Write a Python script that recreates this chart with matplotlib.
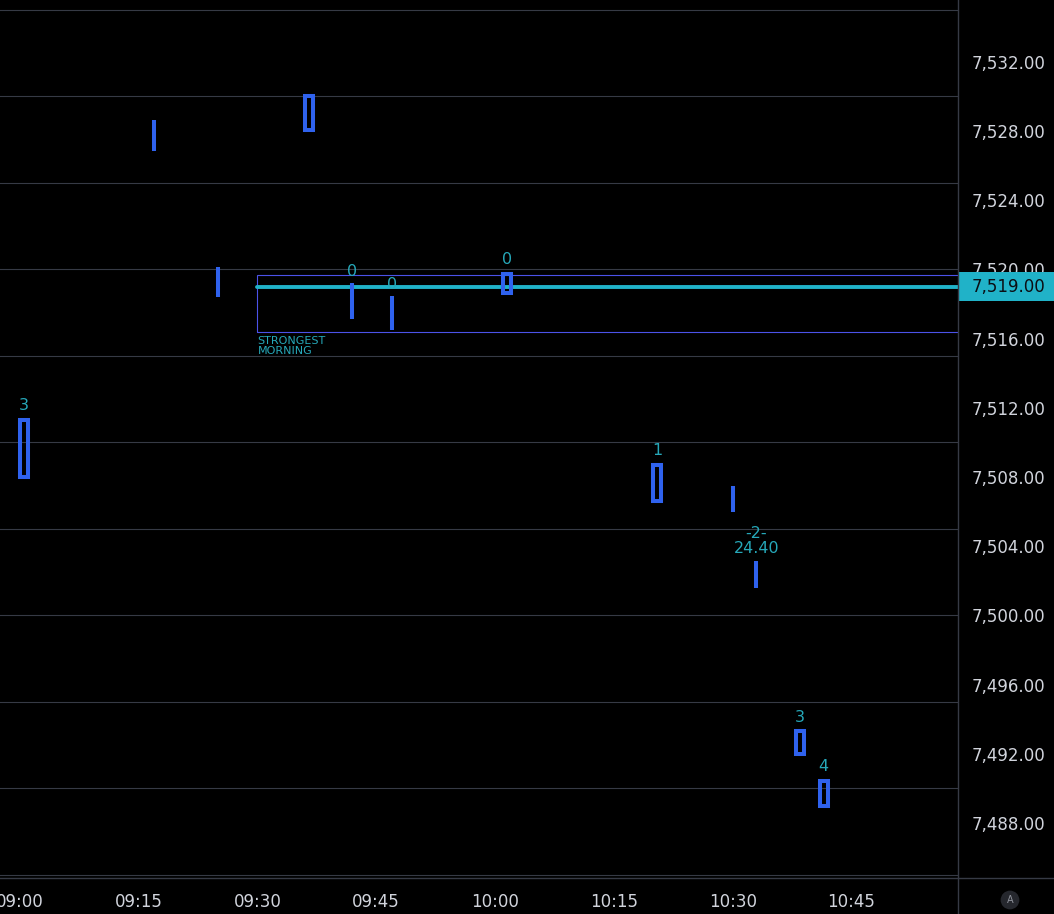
import pandas as pd
import matplotlib
matplotlib.use('Agg')
import matplotlib.pyplot as plt
from matplotlib.patches import Rectangle
from matplotlib.lines import Line2D
from matplotlib.ticker import FuncFormatter
from matplotlib.transforms import blended_transform_factory

# candles
candle_times = ['09:00:30', '09:17:00', '09:25:00', '09:36:30', '09:42:00', '09:47:00',
                '10:01:30', '10:20:30', '10:30:00', '10:33:00', '10:38:30', '10:41:30']
candle_low = [7508.0, 7526.85, 7518.4, 7528.05, 7517.1, 7516.5,
              7518.65, 7506.6, 7506.0, 7501.55, 7492.0, 7489.0]
candle_high = [7511.3, 7528.65, 7520.15, 7530.0, 7519.2, 7518.45,
               7519.75, 7508.7, 7507.5, 7503.15, 7493.3, 7490.45]
candle_hollow = [True, False, False, True, False, False,
                 True, True, False, False, True, True]
candle_labels = ['3', '', '', '', '0', '0', '0', '1', '', '-2-\n24.40', '3', '4']

zone_start = '09:30'
zone_top = 7519.65
zone_bottom = 7516.35
zone_text = 'STRONGEST\nMORNING'
level_price = 7519.0

price_ticks = [7488, 7492, 7496, 7500, 7504, 7508, 7512, 7516, 7520, 7524, 7528, 7532]
grid_prices = [7485, 7490, 7495, 7500, 7505, 7510, 7515, 7520, 7525, 7530, 7535]
time_ticks = ['09:00', '09:15', '09:30', '09:45', '10:00', '10:15', '10:30', '10:45']

BLUE = '#2f62ee'
CYAN = '#20b2c8'
LABEL = '#26a8b9'
GRID = '#363a45'
TXT = '#d1d4dc'


def minutes(t):
    if t.count(':') == 1:
        t = t + ':00'
    return pd.to_timedelta(t).total_seconds() / 60 - 540


xs = [minutes(t) for t in candle_times]

fig = plt.figure(figsize=(10.54, 9.14), dpi=100, facecolor='black')
ax = fig.add_axes([0, 36 / 914, 958 / 1054, 878 / 914])
ax.set_facecolor('black')
ax.set_xlim(-2.49, 118.44)
ax.set_ylim(7484.815, 7535.567)

for g in grid_prices:
    ax.axhline(g, color=GRID, lw=0.8, zorder=0)

# zone + level
z0 = minutes(zone_start)
ax.add_patch(Rectangle((z0, zone_bottom), 300, zone_top - zone_bottom,
                       fill=False, ec='#4b52e8', lw=0.8, zorder=1))
ax.plot([z0, 300], [level_price, level_price], color=CYAN, lw=2.8,
        solid_capstyle='round', zorder=2)
ax.annotate(zone_text, (z0, zone_bottom), xytext=(0, -2.5), textcoords='offset points',
            ha='left', va='top', fontsize=8, color=LABEL, linespacing=1.0)

# candles
for x, lo, hi, hollow, lab in zip(xs, candle_low, candle_high, candle_hollow, candle_labels):
    if hollow:
        ax.add_patch(Rectangle((x - 0.505, lo), 1.01, hi - lo, fill=False,
                               ec=BLUE, lw=2.9, joinstyle='miter', zorder=3))
        off = 4.6
    else:
        ax.vlines(x, lo, hi, color=BLUE, lw=2.9, zorder=3)
        off = 3.2
    if lab:
        ax.annotate(lab, (x, hi), xytext=(0, off), textcoords='offset points',
                    ha='center', va='bottom', fontsize=11.5, color=LABEL,
                    linespacing=1.05)

# axes
for s in ax.spines.values():
    s.set_visible(False)
ax.yaxis.tick_right()
ax.set_yticks(price_ticks)
ax.yaxis.set_major_formatter(FuncFormatter(lambda v, p: f'{v:,.2f}'))
ax.set_xticks([minutes(t) for t in time_ticks])
ax.set_xticklabels(time_ticks)
ax.tick_params(axis='y', length=0, pad=10, labelsize=12, colors=TXT)
ax.tick_params(axis='x', length=0, pad=10.5, labelsize=12, colors=TXT)

tr = blended_transform_factory(ax.transAxes, ax.transData)
ax.text(1 + 14 / 958, 7536, '7,536.00', transform=tr, ha='left', va='center',
        fontsize=12, color=TXT, clip_on=False)
ax.add_patch(Rectangle((1.0, level_price - 0.83), 0.12, 1.66, transform=tr,
                       fc=CYAN, ec='none', clip_on=False, zorder=5))
ax.text(1 + 14 / 958, level_price, f'{level_price:,.2f}', transform=tr, ha='left',
        va='center', fontsize=12, color='#0b0e14', clip_on=False, zorder=6)

fig.add_artist(Line2D([958 / 1054, 958 / 1054], [0, 1], transform=fig.transFigure,
                      color=GRID, lw=1))
fig.add_artist(Line2D([0, 1], [36 / 914, 36 / 914], transform=fig.transFigure,
                      color=GRID, lw=1))
fig.text(1010 / 1054, 1 - 900 / 914, 'A', ha='center', va='center', fontsize=7,
         color='#8f929b', bbox=dict(boxstyle='circle,pad=0.45', fc='#25272d', ec='none'))

fig.savefig('out.png', dpi=100, facecolor='black')
